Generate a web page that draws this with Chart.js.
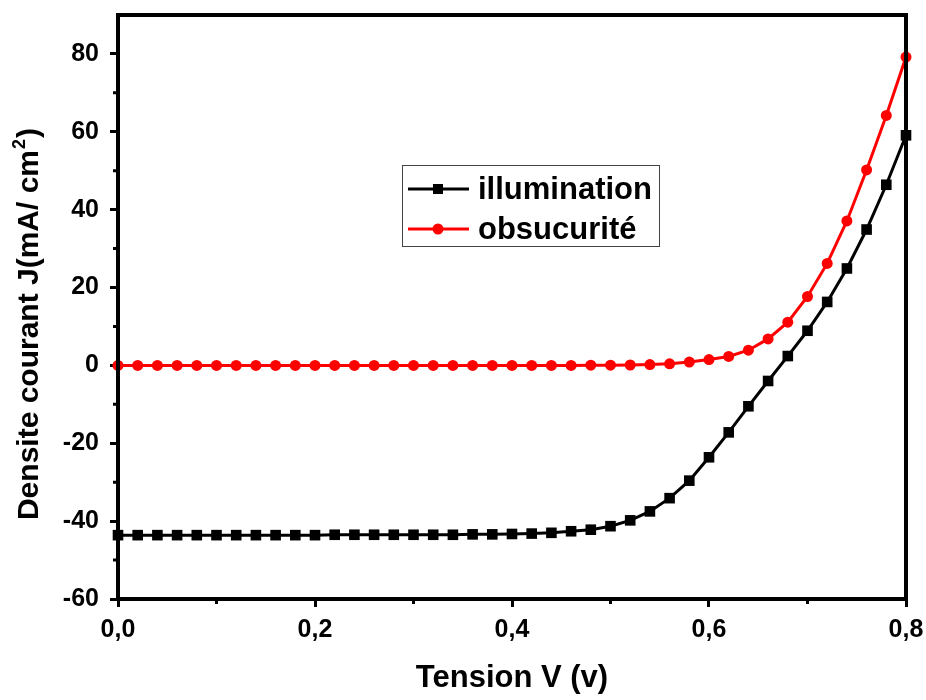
<!DOCTYPE html>
<html>
<head>
<meta charset="utf-8">
<script src="https://cdn.jsdelivr.net/npm/chart.js@4.4.0/dist/chart.umd.min.js"></script>
<style>
html, body { margin: 0; padding: 0; background: #fff; }
</style>
</head>
<body>
<canvas id="myChart" width="926" height="700"></canvas>
<script>
// tension (V) and current density (mA/cm2)
const tension = [0.00, 0.02, 0.04, 0.06, 0.08, 0.10, 0.12, 0.14, 0.16, 0.18,
                 0.20, 0.22, 0.24, 0.26, 0.28, 0.30, 0.32, 0.34, 0.36, 0.38,
                 0.40, 0.42, 0.44, 0.46, 0.48, 0.50, 0.52, 0.54, 0.56, 0.58,
                 0.60, 0.62, 0.64, 0.66, 0.68, 0.70, 0.72, 0.74, 0.76, 0.78, 0.80];
const illumination = [-43.6, -43.6, -43.6, -43.6, -43.6, -43.6, -43.6, -43.6, -43.6, -43.6,
                      -43.6, -43.5, -43.5, -43.5, -43.5, -43.5, -43.5, -43.5, -43.4, -43.4,
                      -43.3, -43.2, -43.0, -42.6, -42.2, -41.3, -39.8, -37.5, -34.1, -29.6,
                      -23.6, -17.2, -10.5, -4.0, 2.4, 8.9, 16.3, 24.9, 34.9, 46.4, 59.1];
const obscurite = [0.0, 0.0, 0.0, 0.0, 0.0, 0.0, 0.0, 0.0, 0.0, 0.0,
                   0.0, 0.0, 0.0, 0.0, 0.0, 0.0, 0.0, 0.0, 0.0, 0.0,
                   0.0, 0.0, 0.0, 0.0, 0.05, 0.05, 0.1, 0.2, 0.4, 0.85,
                   1.5, 2.3, 3.9, 6.8, 11.1, 17.7, 26.2, 37.1, 50.2, 64.2, 79.2];
const seriesNames = ['illumination', 'obsucurité'];
const xTicks = [0, 0.2, 0.4, 0.6, 0.8];
const xMinor = [0.1, 0.3, 0.5, 0.7];
const yTicks = [-60, -40, -20, 0, 20, 40, 60, 80];
const yMinor = [-50, -30, -10, 10, 30, 50, 70];

const FONT = '"Liberation Sans", Arial, sans-serif';

function toPoints(ys) {
    let pts = [];
    for (let i = 0; i < tension.length; i++) {
        pts.push({ x: tension[i], y: ys[i] });
    }
    return pts;
}

function noPad(s) {
    s.paddingTop = 0;
    s.paddingBottom = 0;
    s.paddingLeft = 0;
    s.paddingRight = 0;
}

// frame, minor ticks, y title and the legend box
const decor = {
    id: 'decor',
    afterDatasetsDraw(chart) {
        const ctx = chart.ctx;
        const a = chart.chartArea;
        const xs = chart.scales.x, ys = chart.scales.y;
        ctx.save();
        ctx.strokeStyle = '#000';
        ctx.lineWidth = 4;
        ctx.strokeRect(a.left, a.top, a.right - a.left, a.bottom - a.top);

        ctx.lineWidth = 3;
        ctx.beginPath();
        yMinor.forEach(v => {
            const p = ys.getPixelForValue(v);
            ctx.moveTo(a.left - 5, p);
            ctx.lineTo(a.left, p);
        });
        xMinor.forEach(v => {
            const p = xs.getPixelForValue(v);
            ctx.moveTo(p, a.bottom);
            ctx.lineTo(p, a.bottom + 5);
        });
        ctx.stroke();
        ctx.restore();
    },
    afterDraw(chart) {
        const ctx = chart.ctx;
        ctx.save();

        // y axis title with superscript
        const t1 = 'Densite courant J(mA/ cm', t2 = '2', t3 = ')';
        ctx.translate(37.5, 325);
        ctx.rotate(-Math.PI / 2);
        ctx.fillStyle = '#000';
        ctx.textBaseline = 'alphabetic';
        ctx.textAlign = 'left';
        ctx.font = 'bold 30px ' + FONT;
        const w1 = ctx.measureText(t1).width, w3 = ctx.measureText(t3).width;
        ctx.font = 'bold 18px ' + FONT;
        const w2 = ctx.measureText(t2).width;
        let x0 = -(w1 + w2 + w3) / 2;
        ctx.font = 'bold 30px ' + FONT;
        ctx.fillText(t1, x0, 0);
        ctx.font = 'bold 18px ' + FONT;
        ctx.fillText(t2, x0 + w1 + 1, -13);
        ctx.font = 'bold 30px ' + FONT;
        ctx.fillText(t3, x0 + w1 + w2 + 2, 0);
        ctx.setTransform(1, 0, 0, 1, 0, 0);

        // legend
        ctx.strokeStyle = '#444';
        ctx.lineWidth = 1;
        ctx.strokeRect(402.5, 165.5, 257, 81);
        const rows = [189, 229];
        chart.data.datasets.forEach((ds, i) => {
            const y = rows[i];
            ctx.strokeStyle = ds.borderColor;
            ctx.lineWidth = 3;
            ctx.beginPath();
            ctx.moveTo(408, y);
            ctx.lineTo(469, y);
            ctx.stroke();
            ctx.fillStyle = ds.backgroundColor;
            if (ds.pointStyle === 'rect') {
                ctx.fillRect(433, y - 5, 10, 10);
            } else {
                ctx.beginPath();
                ctx.arc(438, y, 5.5, 0, Math.PI * 2);
                ctx.fill();
            }
            ctx.fillStyle = '#000';
            ctx.font = 'bold 31px ' + FONT;
            ctx.textBaseline = 'middle';
            ctx.fillText(ds.label, 478, y + 1);
        });
        ctx.restore();
    }
};

const ctx = document.getElementById('myChart');
const myChart = new Chart(ctx, {
    type: 'line',
    data: {
        datasets: [{
            label: seriesNames[0],
            data: toPoints(illumination),
            borderColor: '#000000',
            backgroundColor: '#000000',
            borderWidth: 3,
            pointStyle: 'rect',
            pointRadius: 7.5,
            pointBorderWidth: 0,
            clip: false
        },
        {
            label: seriesNames[1],
            data: toPoints(obscurite),
            borderColor: '#ff0000',
            backgroundColor: '#ff0000',
            borderWidth: 3,
            pointStyle: 'circle',
            pointRadius: 5.5,
            pointBorderWidth: 0,
            clip: false
        }]
    },
    options: {
        responsive: false,
        animation: false,
        devicePixelRatio: 1,
        layout: {
            autoPadding: false,
            padding: { top: 15, right: 20, left: 0, bottom: 0 }
        },
        plugins: {
            legend: { display: false },
            tooltip: { enabled: false }
        },
        scales: {
            x: {
                type: 'linear',
                min: 0,
                max: 0.8,
                afterFit: s => { s.height = 101; noPad(s); },
                afterBuildTicks: s => { s.ticks = xTicks.map(v => ({ value: v })); },
                border: { display: false },
                grid: {
                    drawOnChartArea: false,
                    drawTicks: true,
                    tickLength: 8,
                    tickWidth: 3,
                    tickColor: '#000',
                    color: '#000'
                },
                ticks: {
                    color: '#000',
                    padding: 8,
                    maxRotation: 0,
                    font: { family: FONT, size: 25, weight: 'bold' },
                    callback: v => v.toFixed(1).replace('.', ',')
                },
                title: {
                    display: true,
                    text: 'Tension V (v)',
                    color: '#000',
                    font: { family: FONT, size: 31, weight: 'bold' },
                    padding: { top: 0, bottom: 3 }
                }
            },
            y: {
                type: 'linear',
                min: -60,
                max: 90,
                afterFit: s => { s.width = 118; noPad(s); },
                afterBuildTicks: s => { s.ticks = yTicks.map(v => ({ value: v })); },
                border: { display: false },
                grid: {
                    drawOnChartArea: false,
                    drawTicks: true,
                    tickLength: 8,
                    tickWidth: 3,
                    tickColor: '#000',
                    color: '#000'
                },
                ticks: {
                    color: '#000',
                    padding: 11,
                    font: { family: FONT, size: 25, weight: 'bold' }
                }
            }
        }
    },
    plugins: [decor]
});
</script>
</body>
</html>
